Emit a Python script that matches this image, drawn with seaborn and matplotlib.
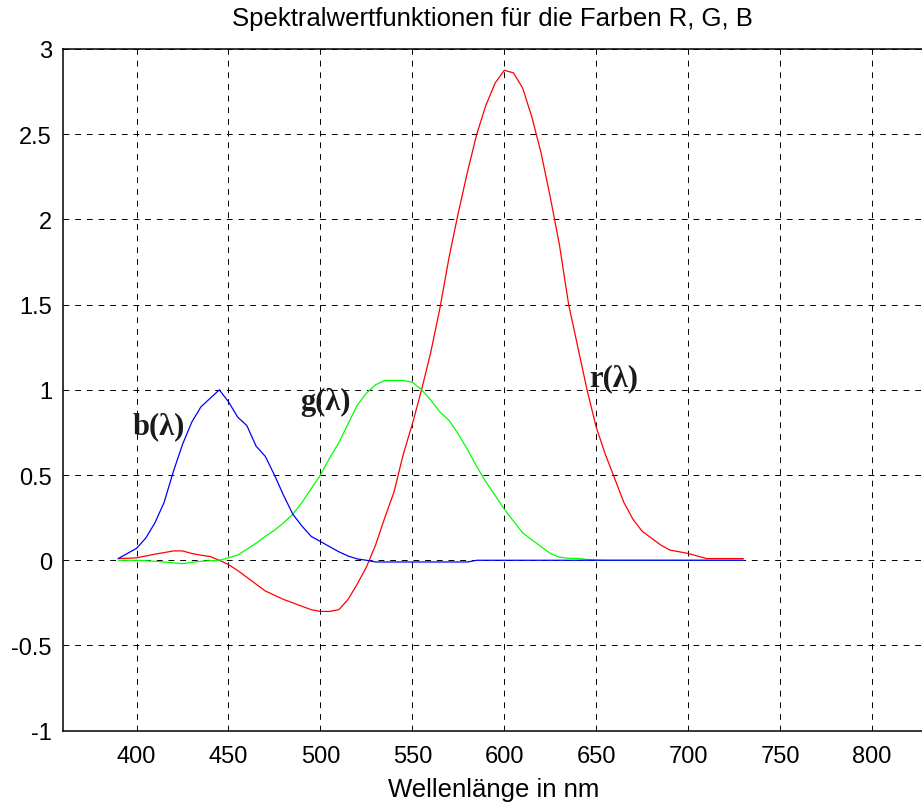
'''
    plot.py
    Spektralwertfunktionen r, g, b (CIE RGB) nachgezeichnet.
'''
import pandas as pd
import seaborn as sns
import matplotlib
matplotlib.use('Agg')
import matplotlib.pyplot as plt

WAVELENGTH = list(range(390, 735, 5))

R_BAR = [0.01, 0.012, 0.014, 0.025, 0.036, 0.045, 0.055, 0.055, 0.04, 0.03,
         0.022, 0.0, -0.025, -0.06, -0.10, -0.14, -0.18, -0.205, -0.23, -0.25,
         -0.27, -0.29, -0.30, -0.30, -0.29, -0.23, -0.14, -0.04, 0.09, 0.25,
         0.40, 0.62, 0.80, 1.0, 1.22, 1.48, 1.78, 2.04, 2.28, 2.50,
         2.67, 2.80, 2.875, 2.86, 2.77, 2.60, 2.39, 2.13, 1.85, 1.50,
         1.25, 1.00, 0.78, 0.62, 0.48, 0.34, 0.24, 0.17, 0.13, 0.09,
         0.06, 0.05, 0.04, 0.025, 0.01, 0.01, 0.01, 0.01, 0.01]

G_BAR = [0.0, 0.0, 0.0, -0.003, -0.006, -0.01, -0.015, -0.02, -0.012, -0.006,
         -0.003, 0.0, 0.015, 0.03, 0.065, 0.10, 0.14, 0.176, 0.22, 0.27,
         0.34, 0.42, 0.50, 0.60, 0.69, 0.80, 0.91, 0.98, 1.03, 1.055,
         1.055, 1.055, 1.045, 1.0, 0.94, 0.87, 0.82, 0.74, 0.65, 0.55,
         0.46, 0.38, 0.30, 0.23, 0.16, 0.12, 0.08, 0.04, 0.018, 0.012,
         0.01, 0.005, 0.002, 0.0, 0.0, 0.0, 0.0, 0.0, 0.0, 0.0,
         0.0, 0.0, 0.0, 0.0, 0.0, 0.0, 0.0, 0.0, 0.0]

B_BAR = [0.01, 0.04, 0.07, 0.13, 0.22, 0.34, 0.52, 0.68, 0.81, 0.90,
         0.95, 1.0, 0.93, 0.84, 0.79, 0.67, 0.61, 0.50, 0.38, 0.27,
         0.20, 0.14, 0.11, 0.08, 0.05, 0.025, 0.008, 0.0, -0.01, -0.01,
         -0.01, -0.01, -0.01, -0.01, -0.01, -0.01, -0.01, -0.01, -0.01, 0.0,
         0.0, 0.0, 0.0, 0.0, 0.0, 0.0, 0.0, 0.0, 0.0, 0.0,
         0.0, 0.0, 0.0, 0.0, 0.0, 0.0, 0.0, 0.0, 0.0, 0.0,
         0.0, 0.0, 0.0, 0.0, 0.0, 0.0, 0.0, 0.0, 0.0]

CURVE_LABELS = ['b(λ)', 'g(λ)', 'r(λ)']
X_TICKS = [400, 450, 500, 550, 600, 650, 700, 750, 800]
Y_TICKS = [-1, -0.5, 0, 0.5, 1, 1.5, 2, 2.5, 3]
Y_TICK_LABELS = ['-1', '-0.5', '0', '0.5', '1', '1.5', '2', '2.5', '3']


def _long_df():
    frames = []
    for name, vals in [('b', B_BAR), ('g', G_BAR), ('r', R_BAR)]:
        frames.append(pd.DataFrame({'nm': WAVELENGTH, 'wert': vals,
                                    'kurve': name}))
    return pd.concat(frames, ignore_index=True)


def main():
    sns.set_style('white')
    plt.rcParams['font.family'] = ['Liberation Sans', 'DejaVu Sans']
    plt.rcParams['text.color'] = 'black'
    plt.rcParams['xtick.color'] = 'black'
    plt.rcParams['ytick.color'] = 'black'
    df = _long_df()

    fig = plt.figure(figsize=(9.22, 8.03), dpi=100)
    ax = fig.add_axes([63 / 922, 71.3 / 803, 901 / 922, 681.7 / 803])

    palette = {'r': '#ff0000', 'g': '#00ff00', 'b': '#0000ff'}
    sns.lineplot(data=df, x='nm', y='wert', hue='kurve', hue_order=['r', 'g', 'b'],
                 palette=palette, lw=0.9, legend=False, ax=ax, sort=False,
                 estimator=None)

    ax.set_xlim(360, 850)
    ax.set_ylim(-1, 3)
    ax.set_xticks(X_TICKS)
    ax.set_xticklabels([str(t) for t in X_TICKS], fontsize=17)
    ax.set_yticks(Y_TICKS)
    ax.set_yticklabels(Y_TICK_LABELS, fontsize=17)
    ax.tick_params(direction='in', length=4, width=0.8, color='black',
                   labelcolor='black')
    ax.tick_params(axis='x', pad=10)
    ax.tick_params(axis='y', pad=8)
    ax.grid(True, color='black', linestyle=(0, (6, 6)), linewidth=0.7)
    for s in ax.spines.values():
        s.set_color('black')
        s.set_linewidth(1.1)
    ax.set_xlabel('')
    ax.set_ylabel('')

    tfont = dict(family='Liberation Serif', fontweight='bold', fontsize=22,
                 color='#1a1a1a')
    ax.text(398, 0.745, CURVE_LABELS[0], va='baseline', ha='left', **tfont)
    ax.text(489, 0.89, CURVE_LABELS[1], va='baseline', ha='left', **tfont)
    ax.text(646, 1.026, CURVE_LABELS[2], va='baseline', ha='left', **tfont)

    fig.text(492 / 922, 1 - 26 / 803, 'Spektralwertfunktionen für die Farben R, G, B',
             ha='center', va='baseline', fontsize=18.5)
    fig.text(494 / 922, 1 - 790 / 803, 'Wellenlänge in nm',
             ha='center', va='center', fontsize=18.5)

    fig.savefig('out.png', dpi=100)


if __name__ == '__main__':
    main()
